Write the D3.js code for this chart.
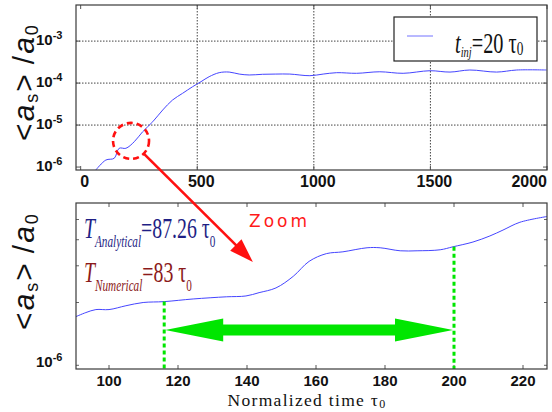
<!DOCTYPE html>
<html><head><meta charset="utf-8">
<script src="https://cdn.jsdelivr.net/npm/d3@7"></script>
<style>body{margin:0;background:#fff}</style>
</head><body><svg id="c" width="552" height="412"></svg>
<script>
// ---------- data ----------
const topTimes  = [65,108,144,165,194,230,266,309,352,394,437,480,516,551,594,637,680,723,780,837,897,983,1040,1098,1183,1283,1383,1498,1584,1669,1784,1870,1998];
const topValues = [8.5e-7,1.47e-6,1.62e-6,2.8e-6,2.8e-6,4.02e-6,6.95e-6,1.2e-5,2.29e-5,3.95e-5,5.7e-5,8.19e-5,1.08e-4,1.42e-4,1.77e-4,1.83e-4,1.64e-4,1.56e-4,1.62e-4,1.64e-4,1.64e-4,1.5e-4,1.64e-4,1.77e-4,1.71e-4,1.86e-4,1.71e-4,1.97e-4,1.83e-4,2.05e-4,1.83e-4,2.05e-4,2.05e-4];
const topXTicks = [0,500,1000,1500,2000];
const topYTicks = [1e-3,1e-4,1e-5,1e-6];
const topYExponents = ["-3","-4","-5","-6"];

const zoomTimes  = [90,93.3,96.2,100,104.9,109.9,116,124.4,134,139.7,143.5,148.4,153.4,158,163,167.8,174.8,178.6,184.4,189.3,196,199.7,205.5,210.4,214.2,219.1,227];
const zoomValues = [1.70e-6,1.79e-6,1.85e-6,1.85e-6,1.93e-6,2.00e-6,2.02e-6,2.08e-6,2.13e-6,2.15e-6,2.23e-6,2.35e-6,2.67e-6,3.15e-6,3.43e-6,3.50e-6,3.66e-6,3.66e-6,3.54e-6,3.54e-6,3.58e-6,3.70e-6,3.90e-6,4.17e-6,4.45e-6,4.85e-6,5.17e-6];
const zoomXTicks = [100,120,140,160,180,200,220];
const zoomYTicks = [1e-6];
const zoomYExponents = ["-6"];
const zoomMinorTicks = [2e-6,3e-6,4e-6,5e-6];
const markerTimes = [116, 200];          // start / end of the numerical period
const markerValues = [2.02e-6, 3.70e-6]; // curve values where the dotted markers start
const zoomRegion = {t: 216, v: 4.2e-6};  // circled region in top panel
const zoomTarget = {t: 141.7, v: 3.13e-6};
const legendSub = "inj", legendText = "=20 τ", legendSub2 = "0";

// ---------- setup ----------
const svg = d3.select("#c");
const lineColor = "#4545ff";
const green = "#00e600";

const T = {l:76, r:547, t:5, b:170};
const xTop = d3.scaleLinear([-20,2000],[T.l,T.r]);
const yTop = d3.scaleLog([10**-6.07, 10**-2.14],[T.b,T.t]);
const B = {l:76, r:547, t:203, b:369};
const xBot = d3.scaleLinear([100 - 33/3.45, 100 + 438/3.45],[B.l,B.r]);
const yBot = d3.scaleLog([0.96e-6, 6e-6],[B.b,B.t]);

const defs = svg.append("defs");
defs.append("clipPath").attr("id","clipT").append("rect").attr("x",T.l).attr("y",T.t).attr("width",T.r-T.l).attr("height",T.b-T.t);
defs.append("clipPath").attr("id","clipB").append("rect").attr("x",B.l).attr("y",B.t).attr("width",B.r-B.l).attr("height",B.b-B.t);

// ---------- top panel ----------
const gT = svg.append("g");
gT.selectAll(".vg").data(topXTicks.filter(d=>d>0 && d<2000)).join("line")
  .attr("x1",d=>xTop(d)).attr("x2",d=>xTop(d)).attr("y1",T.t).attr("y2",T.b)
  .attr("stroke","#444").attr("stroke-width",1).attr("stroke-dasharray","1.5,1.5");
gT.selectAll(".hg").data(topYTicks.filter(d=>d>1e-6)).join("line")
  .attr("x1",T.l).attr("x2",T.r).attr("y1",d=>yTop(d)).attr("y2",d=>yTop(d))
  .attr("stroke","#444").attr("stroke-width",1).attr("stroke-dasharray","1.5,1.5");
const tickLen = 4;
topYTicks.forEach(v=>{
  gT.append("line").attr("x1",T.l).attr("x2",T.l+tickLen).attr("y1",yTop(v)).attr("y2",yTop(v)).attr("stroke","#555");
  gT.append("line").attr("x1",T.r).attr("x2",T.r-tickLen).attr("y1",yTop(v)).attr("y2",yTop(v)).attr("stroke","#555");
});
topXTicks.forEach(t=>{
  gT.append("line").attr("x1",xTop(t)).attr("x2",xTop(t)).attr("y1",T.b).attr("y2",T.b-tickLen).attr("stroke","#555");
  gT.append("line").attr("x1",xTop(t)).attr("x2",xTop(t)).attr("y1",T.t).attr("y2",T.t+tickLen).attr("stroke","#555");
});
const topLine = d3.line().x((d,i)=>xTop(topTimes[i])).y(d=>yTop(d)).curve(d3.curveCatmullRom);
gT.append("path").attr("d",topLine(topValues)).attr("fill","none").attr("stroke",lineColor).attr("stroke-width",1).attr("clip-path","url(#clipT)");
gT.append("rect").attr("x",T.l).attr("y",T.t).attr("width",T.r-T.l).attr("height",T.b-T.t).attr("fill","none").attr("stroke","#3a3a3a").attr("stroke-width",1.2);
gT.selectAll(".xl").data(topXTicks).join("text")
  .attr("x",(d,i)=> i===topXTicks.length-1 ? T.r : xTop(d)+4).attr("y",187)
  .attr("text-anchor",(d,i)=> i===topXTicks.length-1 ? "end" : "middle")
  .attr("font-family","Liberation Sans, Arial, sans-serif").attr("font-weight","bold").attr("font-size",16).attr("fill","#111")
  .text(d=>d);
topYTicks.forEach((v,i)=>{
  const t = gT.append("text").attr("x",36).attr("y",yTop(v)+4)
    .attr("font-family","Liberation Sans, Arial, sans-serif").attr("font-weight","bold").attr("font-size",15).attr("fill","#111");
  t.append("tspan").text("10");
  t.append("tspan").attr("font-size",11).attr("dy",-6).text(topYExponents[i]);
});
// legend
gT.append("rect").attr("x",394).attr("y",17).attr("width",143).attr("height",44).attr("fill","#fff").attr("stroke","#222").attr("stroke-width",1.2);
gT.append("line").attr("x1",407).attr("x2",433).attr("y1",36).attr("y2",36).attr("stroke","#7373ff").attr("stroke-width",1);
const lg = gT.append("g").attr("transform","translate(455,53) scale(0.7,1)");
const lt = lg.append("text").attr("font-family","Liberation Serif, Times New Roman, serif").attr("fill","#111");
lt.append("tspan").attr("font-size",29).attr("font-style","italic").text("t");
lt.append("tspan").attr("font-size",15).attr("font-style","italic").attr("dy",4).text(legendSub);
lt.append("tspan").attr("font-size",29).attr("dy",-4).text(legendText);
lt.append("tspan").attr("font-size",19).attr("dy",2).text(legendSub2);

function yLabel(cy){
  const t = svg.append("text").attr("transform",`translate(34,${cy}) rotate(-90)`).attr("text-anchor","middle")
    .attr("font-family","Liberation Sans, Arial, sans-serif").attr("font-size",30).attr("fill","#111").attr("letter-spacing",2);
  t.append("tspan").text("<");
  t.append("tspan").attr("font-style","italic").text("a");
  t.append("tspan").attr("font-size",18).attr("dy",4).text("s");
  t.append("tspan").attr("dy",-4).text(">\u2009/");
  t.append("tspan").attr("font-style","italic").text("a");
  t.append("tspan").attr("font-size",18).attr("dy",4).text("0");
}
yLabel(82);
yLabel(271);

// ---------- bottom panel ----------
const gB = svg.append("g");
zoomXTicks.forEach(t=>{
  gB.append("line").attr("x1",xBot(t)).attr("x2",xBot(t)).attr("y1",B.t).attr("y2",B.t+tickLen).attr("stroke","#555");
  gB.append("line").attr("x1",xBot(t)).attr("x2",xBot(t)).attr("y1",B.b).attr("y2",B.b-tickLen).attr("stroke","#555");
});
zoomMinorTicks.concat(zoomYTicks).forEach(v=>{
  gB.append("line").attr("x1",B.l).attr("x2",B.l+3).attr("y1",yBot(v)).attr("y2",yBot(v)).attr("stroke","#666");
  gB.append("line").attr("x1",B.r).attr("x2",B.r-3).attr("y1",yBot(v)).attr("y2",yBot(v)).attr("stroke","#666");
});
const botLine = d3.line().x((d,i)=>xBot(zoomTimes[i])).y(d=>yBot(d)).curve(d3.curveCatmullRom);
gB.append("path").attr("d",botLine(zoomValues)).attr("fill","none").attr("stroke",lineColor).attr("stroke-width",1).attr("clip-path","url(#clipB)");
markerTimes.forEach((t,i)=>{
  gB.append("line").attr("x1",xBot(t)).attr("x2",xBot(t)).attr("y1",yBot(markerValues[i])).attr("y2",B.b)
    .attr("stroke",green).attr("stroke-width",3).attr("stroke-dasharray","4,3");
});
{
  const x0 = xBot(markerTimes[0])+1, x1 = xBot(markerTimes[1])-1, cy = 330, hl = 58, hh = 11.5, sh = 5.5;
  const p = [[x0,cy],[x0+hl,cy-hh],[x0+hl,cy-sh],[x1-hl,cy-sh],[x1-hl,cy-hh],[x1,cy],[x1-hl,cy+hh],[x1-hl,cy+sh],[x0+hl,cy+sh],[x0+hl,cy+hh]];
  gB.append("path").attr("d","M"+p.map(d=>d.join(",")).join("L")+"Z").attr("fill",green);
}
gB.append("rect").attr("x",B.l).attr("y",B.t).attr("width",B.r-B.l).attr("height",B.b-B.t).attr("fill","none").attr("stroke","#3a3a3a").attr("stroke-width",1.2);
gB.selectAll(".xl").data(zoomXTicks).join("text")
  .attr("x",d=>xBot(d)).attr("y",386).attr("text-anchor","middle")
  .attr("font-family","Liberation Sans, Arial, sans-serif").attr("font-weight","bold").attr("font-size",15).attr("fill","#111")
  .text(d=>d);
zoomYTicks.forEach((v,i)=>{
  const t = gB.append("text").attr("x",36).attr("y",yBot(v)+2)
    .attr("font-family","Liberation Sans, Arial, sans-serif").attr("font-weight","bold").attr("font-size",15).attr("fill","#111");
  t.append("tspan").text("10");
  t.append("tspan").attr("font-size",11).attr("dy",-6).text(zoomYExponents[i]);
});
{
  const t = svg.append("text").attr("x",307).attr("y",406).attr("text-anchor","middle")
    .attr("font-family","Liberation Serif, Times New Roman, serif").attr("font-size",17.5).attr("letter-spacing",1.3).attr("fill","#111");
  t.append("tspan").text("Normalized time τ");
  t.append("tspan").attr("font-size",12).attr("dy",2).text("0");
}
function periodLabel(y, sub, val, color){
  const g = svg.append("g").attr("transform",`translate(84,${y}) scale(0.66,1)`);
  const t = g.append("text").attr("font-family","Liberation Serif, Times New Roman, serif").attr("fill",color);
  t.append("tspan").attr("font-size",30).attr("font-style","italic").text("T");
  t.append("tspan").attr("font-size",17).attr("font-style","italic").attr("dy",9).text(sub);
  t.append("tspan").attr("font-size",30).attr("dy",-9).text("="+val+" τ");
  t.append("tspan").attr("font-size",17).attr("dy",9).text("0");
}
periodLabel(238, "Analytical", "87.26", "#1f1f85");
periodLabel(282, "Numerical", "83", "#8b1a1a");

svg.append("text").attr("x",249).attr("y",227).attr("font-family","DejaVu Sans, sans-serif").attr("font-size",17)
  .attr("letter-spacing",3).attr("fill","#ff1a1a").text("Zoom");

{
  const cx = xTop(zoomRegion.t), cy = yTop(zoomRegion.v), r = 18;
  svg.append("circle").attr("cx",cx).attr("cy",cy).attr("r",r).attr("fill","none").attr("stroke","#ff1010").attr("stroke-width",2.6).attr("stroke-dasharray","6,4");
  const sx = cx + r*Math.SQRT1_2, sy = cy + r*Math.SQRT1_2;
  const ex = xBot(zoomTarget.t), ey = yBot(zoomTarget.v);
  const dx = ex-sx, dy = ey-sy, L = Math.hypot(dx,dy), ux = dx/L, uy = dy/L, hl = 24, hw = 8;
  const bx = ex-ux*hl, by = ey-uy*hl;
  svg.append("line").attr("x1",sx).attr("y1",sy).attr("x2",bx+ux*2).attr("y2",by+uy*2).attr("stroke","#ff1010").attr("stroke-width",2.6);
  svg.append("path").attr("d",`M${ex},${ey}L${bx-uy*hw},${by+ux*hw}L${bx+uy*hw},${by-ux*hw}Z`).attr("fill","#ff1010");
}
</script></body></html>
